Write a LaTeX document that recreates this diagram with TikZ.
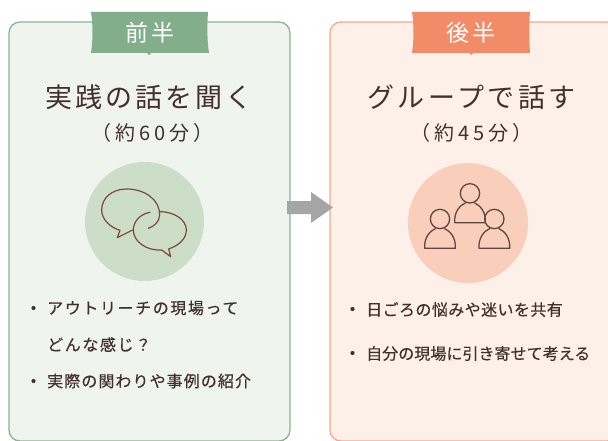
\documentclass[tikz,border=0pt]{standalone}
\usepackage{fontspec}
\setmainfont{Noto Sans CJK JP}
\definecolor{inkc}{HTML}{43302C}
\definecolor{greenfill}{HTML}{EFF4EE}
\definecolor{greenline}{HTML}{8DB594}
\definecolor{greentab}{HTML}{83AE8B}
\definecolor{greendisc}{HTML}{CDDEC8}
\definecolor{orangefill}{HTML}{FDF0E8}
\definecolor{orangeline}{HTML}{F8A98A}
\definecolor{orangetab}{HTML}{F28C68}
\definecolor{orangedisc}{HTML}{F9CFBC}
\definecolor{arrowgray}{HTML}{A5A5A5}
\definecolor{iconbrown}{HTML}{7A4A3A}
\definecolor{iconink}{HTML}{5F463F}
\tikzset{
  panelbox/.style={line width=1.3pt,rounded corners=11pt},
  tabtext/.style={text=white,font=\fontsize{23}{23}\selectfont\addfontfeature{LetterSpace=17},anchor=center,inner sep=0pt},
  titletext/.style={text=inkc,font=\fontsize{27}{27}\selectfont\addfontfeature{LetterSpace=#1},anchor=center,inner sep=0pt},
  subtext/.style={text=inkc,font=\fontsize{20}{20}\selectfont\addfontfeature{LetterSpace=20},anchor=center,inner sep=0pt},
  itemtext/.style={text=inkc,font=\fontsize{16}{16}\selectfont\addfontfeature{FakeBold=0.4,LetterSpace=#1},anchor=west,inner sep=0pt},
  dotmark/.style={circle,fill=inkc,minimum size=4.2pt,inner sep=0pt},
  iconline/.style={draw=iconbrown,line width=1.2pt,line cap=round,line join=round},
  personline/.style={draw=iconink,line width=1.3pt,line cap=round,line join=round},
}
\newcommand{\personicon}[2]{%
  \draw[personline] (#1,#2) circle (29);
  \draw[personline] (#1-46,#2+88) .. controls (#1-48,#2+55) and (#1-30,#2+36) .. (#1-14,#2+29)
     (#1+14,#2+29) .. controls (#1+30,#2+36) and (#1+48,#2+55) .. (#1+46,#2+88) -- (#1-46,#2+88);
}
\begin{document}
\begin{tikzpicture}[x=1pt,y=-1pt]
\useasboundingbox (0,0) rectangle (608,441);
\clip (0,0) rectangle (608,441);
\fill[white] (0,0) rectangle (608,441);
% panels
\draw[panelbox,draw=greenline,fill=greenfill] (9,22) rectangle (290,441);
\draw[panelbox,draw=orangeline,fill=orangefill] (330,22) rectangle (618,441);
% tabs
\fill[greentab] (91,12) -- (208,12) .. controls (207,25) and (207,40) .. (209,53) -- (151,53) -- (149,55) -- (147,53) -- (91,53) .. controls (93,40) and (93,25) .. (91,12) -- cycle;
\fill[orangetab] (412,12) -- (530,12) .. controls (529,25) and (529,40) .. (530,53) -- (473,53) -- (471,55) -- (469,53) -- (412,53) .. controls (414,40) and (414,25) .. (412,12) -- cycle;
\node[tabtext] (tabL) at (150,33) {前半};
\node[tabtext] (tabR) at (471,33) {後半};
% titles
\node[titletext=11] (titleL) at (149,97) {実践の話を聞く};
\node[titletext=13] (titleR) at (471.5,97) {グループで話す};
\node[subtext] (subL) at (152.5,133) {（約60分）};
\node[subtext] (subR) at (471.5,133) {（約45分）};
% discs
\fill[greendisc] (144.5,221.5) circle (59.5);
\fill[orangedisc] (468,223) circle (60);
% speech bubbles
\begin{scope}[xshift=60pt,yshift=-150pt,x=0.3333pt,y=-0.3333pt]
\draw[iconline] (265,235) .. controls (285,228) and (298,215) .. (299,195)
  .. controls (300,150) and (255,117) .. (200,117)
  .. controls (155,117) and (125,145) .. (125,180)
  .. controls (125,208) and (150,232) .. (180,241)
  -- (172,263) -- (218,240);
\draw[iconline] (270,187) .. controls (240,192) and (220,215) .. (220,240)
  .. controls (220,275) and (260,303) .. (305,300)
  -- (332,320) -- (326,297)
  .. controls (360,285) and (379,265) .. (379,240)
  .. controls (379,210) and (345,185) .. (298,185);
\end{scope}
% people
\begin{scope}[xshift=400pt,yshift=-150pt,x=0.3333pt,y=-0.3333pt]
\personicon{210}{130}
\personicon{120}{207}
\personicon{283}{207}
\end{scope}
% arrow
\fill[arrowgray] (287,201) -- (311,201) -- (311,192) -- (333,207.5) -- (311,223) -- (311,214) -- (287,214) -- cycle;
% bullets left
\node[dotmark] (dL1) at (33.5,308) {};
\node[dotmark] (dL2) at (33.5,381) {};
\node[itemtext=10] (iL1) at (47,308) {アウトリーチの現場って};
\node[itemtext=10] (iL1b) at (47,344.5) {どんな感じ？};
\node[itemtext=6.7] (iL2) at (47,381) {実際の関わりや事例の紹介};
% bullets right
\node[dotmark] (dR1) at (352.5,309) {};
\node[dotmark] (dR2) at (352.5,353) {};
\node[itemtext=2.6] (iR1) at (366,309.5) {日ごろの悩みや迷いを共有};
\node[itemtext=0.3] (iR2) at (366,353.5) {自分の現場に引き寄せて考える};
\end{tikzpicture}
\end{document}
